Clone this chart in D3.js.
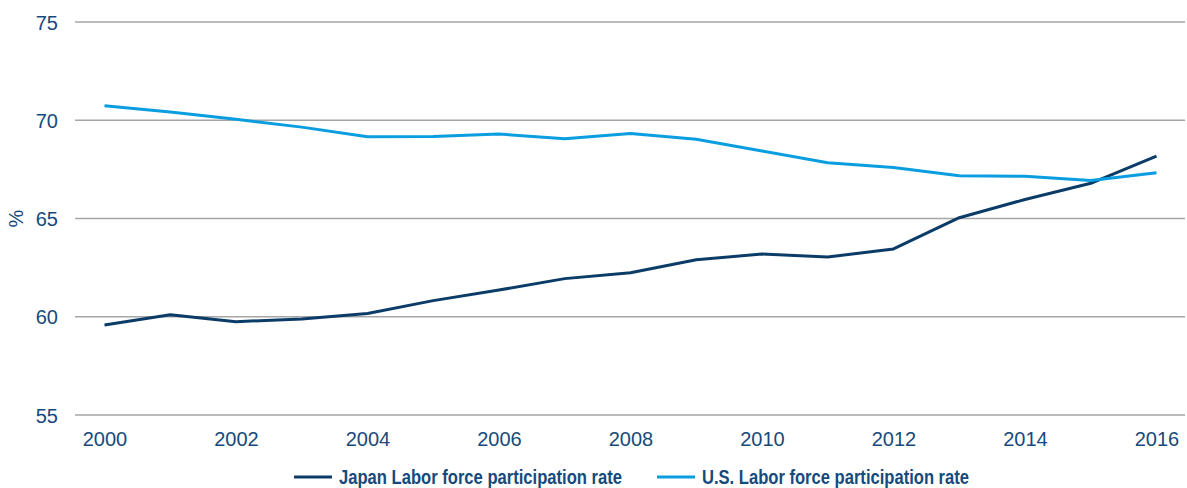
<!DOCTYPE html>
<html lang="en">
<head>
<meta charset="utf-8">
<title>Labor force participation rate: Japan vs U.S.</title>
<style>
  body { margin: 0; background: #fff; }
  svg { display: block; }
  .tick-label { font-family: "Liberation Sans", Arial, sans-serif; font-size: 20px; fill: #174a7c; }
  .legend-label { font-family: "Liberation Sans", Arial, sans-serif; font-weight: bold; font-size: 21px; fill: #174a7c; }
</style>
<script src="https://d3js.org/d3.v7.min.js"></script>
</head>
<body>
<script>
  // data
  let years = d3.range(2000, 2017)
  let japan = [59.58, 60.1, 59.75, 59.89, 60.17, 60.82, 61.36, 61.94, 62.24, 62.9, 63.19, 63.04, 63.45, 65.04, 65.97, 66.79, 68.18]
  let us = [70.74, 70.42, 70.05, 69.65, 69.16, 69.17, 69.3, 69.06, 69.32, 69.03, 68.43, 67.84, 67.6, 67.18, 67.15, 66.93, 67.33]
  let yTicks = [55, 60, 65, 70, 75]
  let xTicks = [2000, 2002, 2004, 2006, 2008, 2010, 2012, 2014, 2016]
  let seriesNames = ["Japan Labor force participation rate", "U.S. Labor force participation rate"]
  let seriesColors = ["#0b3c68", "#0a9ee0"]

  let width = 1187
  let height = 488

  let svg = d3.select("body").append("svg")
      .attr("width", width)
      .attr("height", height)

  let x = d3.scaleLinear().domain([2000, 2016]).range([104.5, 1156.5])
  let y = d3.scaleLinear().domain([55, 75]).range([415, 22])

  // grid lines
  svg.append("g")
    .selectAll("line")
    .data(yTicks)
    .join("line")
      .attr("x1", 75)
      .attr("x2", 1185)
      .attr("y1", d => y(d))
      .attr("y2", d => y(d))
      .attr("stroke", "#a6a6a6")
      .attr("stroke-width", 1.5)

  // y axis labels
  let yAxis = d3.axisLeft(y).tickValues(yTicks).tickSize(0).tickPadding(0)
  let yg = svg.append("g").attr("transform", "translate(58,0)").call(yAxis)
  yg.select(".domain").remove()
  yg.selectAll("text").attr("class", "tick-label").attr("dy", "0.35em")

  svg.append("text")
    .attr("class", "tick-label")
    .attr("transform", `translate(23,${y(65)}) rotate(-90)`)
    .attr("text-anchor", "middle")
    .text("%")

  // x axis labels
  let xAxis = d3.axisBottom(x).tickValues(xTicks).tickFormat(d3.format("d")).tickSize(0).tickPadding(0)
  let xg = svg.append("g").attr("transform", "translate(0,432)").call(xAxis)
  xg.select(".domain").remove()
  xg.selectAll("text").attr("class", "tick-label").attr("dy", "0.71em")

  // lines
  let line = d3.line().x((d, i) => x(years[i])).y(d => y(d))
  let allSeries = [japan, us]
  allSeries.forEach((s, i) => {
    svg.append("path")
      .datum(s)
      .attr("d", line)
      .attr("fill", "none")
      .attr("stroke", seriesColors[i])
      .attr("stroke-width", 3)
      .attr("stroke-linejoin", "round")
  })

  // legend (condensed look via textLength)
  let legendX = [294, 657]
  let legendW = [283, 267]
  let legend = svg.append("g")
  seriesNames.forEach((name, i) => {
    legend.append("line")
      .attr("x1", legendX[i])
      .attr("x2", legendX[i] + 38)
      .attr("y1", 477)
      .attr("y2", 477)
      .attr("stroke", seriesColors[i])
      .attr("stroke-width", 3)
    legend.append("text")
      .attr("class", "legend-label")
      .attr("x", legendX[i] + 45)
      .attr("y", 484)
      .attr("textLength", legendW[i])
      .attr("lengthAdjust", "spacingAndGlyphs")
      .text(name)
  })
</script>
</body>
</html>
